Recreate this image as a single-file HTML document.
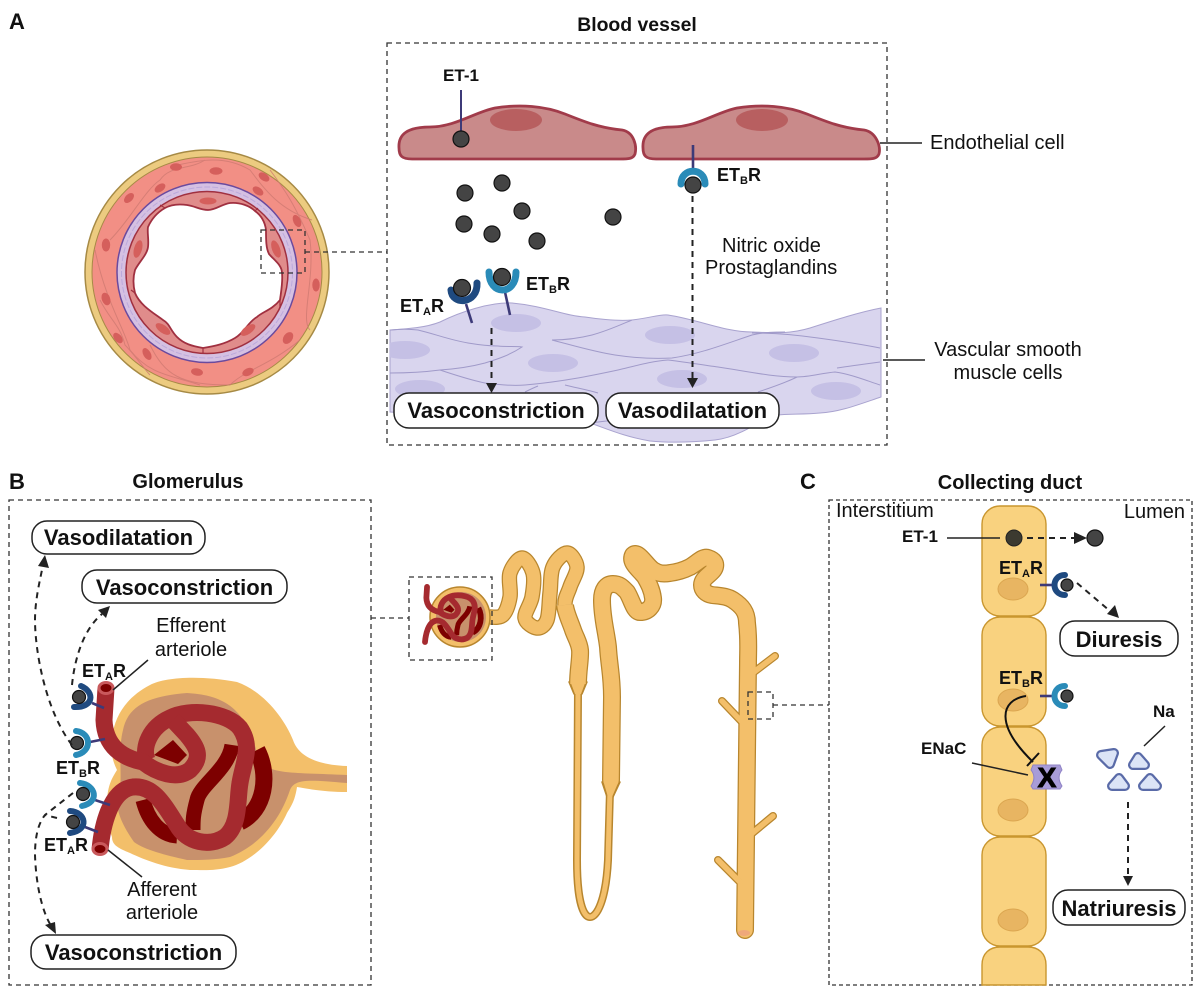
<!DOCTYPE html>
<html><head><meta charset="utf-8"><title>Endothelin diagram</title>
<style>
html,body{margin:0;padding:0;background:#fff}
svg{display:block}
text{font-family:"Liberation Sans",sans-serif;fill:#111}
.b{font-weight:bold}
.d{fill:none;stroke:#333;stroke-width:1.3;stroke-dasharray:5 4}
.a{fill:none;stroke:#222;stroke-width:2;stroke-dasharray:6 5}
.h{fill:#222}
.l{fill:none;stroke:#222;stroke-width:1.5}
.p{fill:#fff;stroke:#222;stroke-width:1.5}
.lig{fill:#444;stroke:#111;stroke-width:1.2}
.ea{fill:none;stroke:#1f4a80;stroke-width:7;stroke-linecap:round}
.eb{fill:none;stroke:#2a8bb8;stroke-width:7;stroke-linecap:round}
.st{fill:none;stroke:#3d3a78;stroke-width:2.6}
.smc{fill:none;stroke:#a09ac9;stroke-width:1}
.nuc{fill:#c5c0e5}
.vn{fill:#d55f5c}
.cl{fill:none;stroke:#d07a72;stroke-width:1;opacity:.8}
.cell{fill:#f9d27f;stroke:#c9962f;stroke-width:1.4}
.cn{fill:#e8b562;stroke:#dba650;stroke-width:1}
.nao{fill:#5a6ba8;stroke:#5a6ba8;stroke-width:10;stroke-linejoin:round}
.nai{fill:#dce4f6;stroke:#dce4f6;stroke-width:5.5;stroke-linejoin:round}
</style></head>
<body>
<svg width="1200" height="996" viewBox="0 0 1200 996" xmlns="http://www.w3.org/2000/svg">
<defs>
<clipPath id="smcclip"><path d="M390,330C405,329 425,328 440,322C460,312 490,302 512,303C545,306 565,316 585,317C605,320 620,321 632,320C650,318 660,314 668,315C700,320 725,332 752,332C775,333 790,334 810,328C835,320 860,312 881,308L881,397C860,404 840,412 820,413C800,415 785,413 770,416C755,425 735,438 715,440C695,442 670,443 650,441C625,437 605,428 590,423L390,412Z"/></clipPath>
</defs>
<rect width="1200" height="996" fill="#fff"/>

<text class="b" x="9" y="29" font-size="22">A</text>
<text class="b" x="9" y="489" font-size="22">B</text>
<text class="b" x="800" y="489" font-size="22">C</text>

<!-- Vessel cross-section -->
<circle cx="207" cy="272" r="122" fill="#eccb80" stroke="#a68a45" stroke-width="1.5"/>
<circle cx="207" cy="272" r="115" fill="#f28f85" stroke="#a68a45" stroke-width="1"/>
<g class="cl">
<path d="M178,165C200,160 225,155 250,170C265,190 280,210 312,220"/>
<path d="M110,240C130,220 145,190 160,180C170,165 190,170 205,160"/>
<path d="M95,250C105,300 125,330 130,350C150,375 170,375 200,385"/>
<path d="M270,170C285,190 295,205 310,240C315,280 300,320 310,330"/>
<path d="M150,345C165,375 180,385 230,385C245,370 270,365 300,340"/>
<path d="M100,300C110,320 120,325 125,345C135,355 145,370 150,375"/>
</g>
<g class="vn">
<ellipse cx="176" cy="167" rx="6" ry="3.7"/><ellipse cx="216" cy="171" rx="6.5" ry="3.7"/>
<ellipse cx="264" cy="177" rx="6" ry="3.7" transform="rotate(35 264 177)"/>
<ellipse cx="258" cy="191" rx="6" ry="3.7" transform="rotate(35 258 191)"/>
<ellipse cx="297" cy="221" rx="6.5" ry="3.7" transform="rotate(65 297 221)"/>
<ellipse cx="316" cy="285" rx="6.5" ry="3.7" transform="rotate(90 316 285)"/>
<ellipse cx="288" cy="338" rx="6.5" ry="4.5" transform="rotate(125 288 338)"/>
<ellipse cx="248" cy="372" rx="6" ry="3.7" transform="rotate(155 248 372)"/>
<ellipse cx="197" cy="372" rx="6" ry="3.7" transform="rotate(10 197 372)"/>
<ellipse cx="147" cy="354" rx="6.5" ry="3.7" transform="rotate(60 147 354)"/>
<ellipse cx="118" cy="338" rx="6" ry="3.7" transform="rotate(50 118 338)"/>
<ellipse cx="106" cy="299" rx="6.5" ry="4.2" transform="rotate(70 106 299)"/>
<ellipse cx="106" cy="245" rx="6.5" ry="4.2" transform="rotate(90 106 245)"/>
<ellipse cx="129" cy="198" rx="6" ry="3.7" transform="rotate(-45 129 198)"/>
<ellipse cx="160" cy="188" rx="6" ry="3.7" transform="rotate(-35 160 188)"/>
</g>
<circle cx="207" cy="272.5" r="90" fill="#d5c0e2" stroke="#6a4a9e" stroke-width="1.5"/>
<circle cx="207" cy="272.500" r="85.500" fill="none" stroke="#bba9dc" stroke-width="1" stroke-dasharray="6 2"/>
<circle cx="207" cy="272.5" r="81" fill="#e08c8b" stroke="#a03040" stroke-width="1.5"/>
<path d="M165,208C172,204 180,204 187,205C195,206 200,210 208,210C216,210 222,204 230,203C240,202 250,206 255,211C262,216 265,222 266,230C266,240 266,248 269,254C274,260 282,265 282,273C283,282 281,292 280,300C272,310 262,312 257,317C248,322 245,332 235,338C225,344 215,346 203,348C192,346 184,344 177,337C170,330 170,324 163,320C152,312 140,305 135,293C133,285 133,277 135,270C139,262 147,255 148,247C149,240 147,232 148,227C152,218 158,212 165,208Z" fill="#fff" stroke="#a03040" stroke-width="1.8"/>
<g fill="none" stroke="#a03040" stroke-width="1.2">
<path d="M165,208L160,205M255,211L258,208M280,300L280,308M203,348L203,354M135,293L131,290"/>
</g>
<g class="vn">
<ellipse cx="208" cy="201" rx="8.5" ry="3.5"/>
<ellipse cx="138" cy="249" rx="9" ry="4" transform="rotate(105 138 249)"/>
<ellipse cx="276" cy="249" rx="9" ry="4" transform="rotate(70 276 249)"/>
<ellipse cx="163" cy="329" rx="8.5" ry="4" transform="rotate(35 163 329)"/>
<ellipse cx="248" cy="330" rx="8.5" ry="4" transform="rotate(-35 248 330)"/>
</g>
<rect class="d" x="261" y="230" width="44" height="43"/>
<path class="d" d="M305,252L387,252"/>

<!-- Panel A -->
<rect class="d" x="387" y="43" width="500" height="402" stroke-dasharray="4 3"/>
<text class="b" x="637" y="31" font-size="19.400" text-anchor="middle">Blood vessel</text>

<!-- Endothelial cells -->
<path d="M399,148C398,134 408,127 430,127C455,127 475,112 495,108C520,104 545,106 565,114C585,122 600,128 622,130C634,132 637,146 635,154C633,159 628,159 620,159L412,159C402,159 399,156 399,148Z" fill="#c98a8a" stroke="#a13b4a" stroke-width="2.8"/>
<path d="M643,148C642,134 652,127 672,127C697,127 717,112 737,108C762,104 787,106 807,114C827,122 842,128 864,130C876,132 881,146 879,154C877,159 872,159 864,159L656,159C646,159 643,156 643,148Z" fill="#c98a8a" stroke="#a13b4a" stroke-width="2.8"/>
<ellipse cx="516" cy="120" rx="26" ry="11" fill="#b85f60"/>
<ellipse cx="762" cy="120" rx="26" ry="11" fill="#b85f60"/>

<text class="b" x="461" y="81" font-size="17" text-anchor="middle">ET-1</text>
<path d="M461,90L461,131" stroke="#3d3a78" stroke-width="2" fill="none"/>
<circle class="lig" cx="461" cy="139" r="8"/>
<g class="lig">
<circle cx="465" cy="193" r="8"/><circle cx="502" cy="183" r="8"/><circle cx="522" cy="211" r="8"/>
<circle cx="464" cy="224" r="8"/><circle cx="492" cy="234" r="8"/><circle cx="537" cy="241" r="8"/>
<circle cx="613" cy="217" r="8"/>
</g>

<path class="st" d="M693,145L693,172"/>
<path class="eb" d="M681,184C681,167 705,167 705,184"/>
<circle class="lig" cx="693" cy="185" r="8"/>
<text class="b" x="717" y="181" font-size="18">ET<tspan font-size="11" dy="3">B</tspan><tspan dy="-3">R</tspan></text>

<text x="722" y="252" font-size="20">Nitric oxide</text>
<text x="705" y="274" font-size="20">Prostaglandins</text>

<!-- smooth muscle -->
<path d="M390,330C405,329 425,328 440,322C460,312 490,302 512,303C545,306 565,316 585,317C605,320 620,321 632,320C650,318 660,314 668,315C700,320 725,332 752,332C775,333 790,334 810,328C835,320 860,312 881,308L881,397C860,404 840,412 820,413C800,415 785,413 770,416C755,425 735,438 715,440C695,442 670,443 650,441C625,437 605,428 590,423L390,412Z" fill="#d9d5ee" stroke="#a9a3cf" stroke-width="1"/>
<g class="nuc" clip-path="url(#smcclip)">
<ellipse cx="516" cy="323" rx="25" ry="9"/><ellipse cx="670" cy="335" rx="25" ry="9"/>
<ellipse cx="794" cy="353" rx="25" ry="9"/><ellipse cx="553" cy="363" rx="25" ry="9"/>
<ellipse cx="405" cy="350" rx="25" ry="9"/><ellipse cx="682" cy="379" rx="25" ry="9"/>
<ellipse cx="420" cy="389" rx="25" ry="9"/><ellipse cx="836" cy="391" rx="25" ry="9"/>
</g>
<g class="smc">
<path d="M390,330C400,329 410,329 418,330C435,334 450,340 468,343C480,345 490,346 498,346C508,347 516,346 522,347C510,355 498,359 485,363C470,367 455,369 440,370C425,372 405,373 390,373"/>
<path d="M552,340C565,340 580,338 592,335C607,331 620,325 632,320"/>
<path d="M552,340C575,346 595,352 615,355C635,358 655,359 672,358C700,354 725,344 752,335C765,332 775,332 785,332"/>
<path d="M752,333C775,333 797,335 818,338C840,341 860,344 880,348"/>
<path d="M440,370C455,375 470,380 485,383C500,385 512,386 525,385C560,382 590,376 618,370C635,366 652,361 668,360"/>
<path d="M668,360C685,362 702,365 718,367C745,371 772,377 797,377C810,377 822,373 835,372C850,374 865,380 880,385"/>
<path d="M837,368C850,366 865,364 880,362"/>
<path d="M797,377C785,383 770,388 758,392"/>
<path d="M565,385C577,388 588,390 598,393"/>
<path d="M538,386C533,388 529,390 525,392"/>
<path d="M590,423L680,412"/>
</g>

<path class="st" d="M466,304L472,323"/>
<path class="ea" d="M451,290C452,306 478,304 477,283"/>
<circle class="lig" cx="462" cy="288" r="8.500"/>
<path class="st" d="M505,292L510,315"/>
<path class="eb" d="M489,272C489,296 516,296 516,272"/>
<circle class="lig" cx="502" cy="277" r="8.500"/>
<text class="b" x="400" y="312" font-size="18">ET<tspan font-size="11" dy="3">A</tspan><tspan dy="-3">R</tspan></text>
<text class="b" x="526" y="290" font-size="18">ET<tspan font-size="11" dy="3">B</tspan><tspan dy="-3">R</tspan></text>

<path class="a" d="M491.500,328L491.500,382"/>
<path class="h" d="M486,383L497,383L491.500,393Z"/>
<path class="a" d="M692.500,196L692.500,378"/>
<path class="h" d="M687,378L698,378L692.500,388Z"/>

<rect class="p" x="394" y="393" width="204" height="35" rx="15"/>
<text class="b" x="496" y="418" font-size="22" text-anchor="middle">Vasoconstriction</text>
<rect class="p" x="606" y="393" width="173" height="35" rx="15"/>
<text class="b" x="692.500" y="418" font-size="22" text-anchor="middle">Vasodilatation</text>

<path class="l" d="M880,143L922,143"/>
<text x="930" y="149" font-size="20">Endothelial cell</text>
<path class="l" d="M883,360L925,360"/>
<text x="1008" y="356" font-size="20" text-anchor="middle">Vascular smooth</text>
<text x="1008" y="379" font-size="20" text-anchor="middle">muscle cells</text>

<!-- Panel B -->
<text class="b" x="188" y="488" font-size="20" text-anchor="middle">Glomerulus</text>
<rect class="d" x="9" y="500" width="362" height="485" stroke-dasharray="4 3"/>

<path d="M112,737C115,715 127,697 150,685C165,677 200,675 237,682C265,692 285,720 293,740C298,755 315,765 347,766L347,792C320,792 305,788 297,787C295,800 292,805 287,813C275,840 250,862 230,867C215,871 205,870 190,870C165,868 145,860 130,853C118,848 112,845 112,837C108,825 105,812 107,800C108,785 112,778 117,770C112,760 110,750 112,737Z" fill="#f3bf6a"/>
<path d="M123,730C128,705 150,696 187,693C220,695 245,705 257,753C265,775 280,772 347,775L347,783C310,780 295,778 290,790C280,820 260,845 230,857C215,860 200,860 187,860C165,855 145,850 134,842C115,815 115,800 120,790C122,770 118,750 123,730Z" fill="#c8916c"/>
<g fill="none" stroke="#7d0000">
<path d="M232,745C228,770 200,785 197,800C193,815 193,820 193,830" stroke-width="15"/>
<path d="M257,750C270,775 265,810 240,822" stroke-width="17"/>
<path d="M143,800C148,820 160,835 177,836" stroke-width="15"/>
</g>
<path d="M154,755L173,740L187,755L178,764Z" fill="#7d0000"/>
<g fill="none" stroke="#a52a2f" stroke-width="17">
<path d="M100,850C102,827 110,790 133,787C153,785 163,803 177,825C187,843 210,847 225,837C240,825 237,800 240,783C243,763 253,747 240,728C227,712 190,708 170,718C150,727 142,747 147,760"/>
<path d="M106,688L104,720C105,747 123,758 143,762C157,773 177,780 190,770C203,757 197,747 187,735L173,720"/>
</g>
<ellipse cx="106" cy="688" rx="8.500" ry="7" fill="#c9595c"/><ellipse cx="106" cy="688" rx="5.500" ry="4" fill="#7d0000"/>
<ellipse cx="100" cy="849" rx="8.500" ry="7" fill="#c9595c"/><ellipse cx="100" cy="849" rx="5.500" ry="4" fill="#7d0000"/>

<path class="st" d="M92,703L104,708"/><path class="ea" style="stroke-width:6" d="M81,686C95,692 94,708 74,707"/><circle class="lig" cx="79" cy="697" r="6.500"/>
<path class="st" d="M90,742L105,739"/><path class="eb" style="stroke-width:6" d="M76,731C92,733 92,752 76,755"/><circle class="lig" cx="77" cy="743" r="6.500"/>
<path class="st" d="M95,800L110,805"/><path class="eb" style="stroke-width:6" d="M80,783C96,785 100,802 82,806"/><circle class="lig" cx="83" cy="794" r="6.500"/>
<path class="st" d="M85,827L98,832"/><path class="ea" style="stroke-width:6" d="M70,811C86,812 90,830 70,833"/><circle class="lig" cx="73" cy="822" r="6.500"/>

<text class="b" x="82" y="677" font-size="18">ET<tspan font-size="11" dy="3">A</tspan><tspan dy="-3">R</tspan></text>
<text class="b" x="56" y="774" font-size="18">ET<tspan font-size="11" dy="3">B</tspan><tspan dy="-3">R</tspan></text>
<text class="b" x="44" y="851" font-size="18">ET<tspan font-size="11" dy="3">A</tspan><tspan dy="-3">R</tspan></text>

<path class="a" d="M72,745C45,710 35,650 35,620C35,600 40,580 43,565"/>
<path class="h" d="M38,566L49,568L45,555Z"/>
<path class="a" d="M72,685C75,655 85,628 102,614"/>
<path class="h" d="M98,610L106,618L110,606Z"/>
<path class="a" d="M73,793L45,815C37,825 35,840 35,855C36,885 42,910 50,924"/>
<path class="h" d="M45,925L55,922L56,934Z"/>
<path class="a" d="M57,818L45,815"/>

<text x="191" y="632" font-size="20" text-anchor="middle">Efferent</text>
<text x="191" y="656" font-size="20" text-anchor="middle">arteriole</text>
<text x="162" y="896" font-size="20" text-anchor="middle">Afferent</text>
<text x="162" y="919" font-size="20" text-anchor="middle">arteriole</text>
<path class="l" d="M113,690L148,660"/>
<path class="l" d="M108,850L142,877"/>

<rect class="p" x="32" y="521" width="173" height="33" rx="15"/>
<text class="b" x="118.500" y="545" font-size="22" text-anchor="middle">Vasodilatation</text>
<rect class="p" x="82" y="570" width="205" height="33" rx="15"/>
<text class="b" x="184.500" y="595" font-size="22" text-anchor="middle">Vasoconstriction</text>
<rect class="p" x="31" y="935" width="205" height="34" rx="15"/>
<text class="b" x="133.500" y="960" font-size="22" text-anchor="middle">Vasoconstriction</text>

<!-- Nephron -->
<g fill="none" stroke-linejoin="round">
<g stroke="#b8862e">
<path stroke-width="15.500" d="M490,617C492,617 499.700,618.300 503,615C506.300,611.700 508.800,604 510,597C511.200,590 508,579.500 510,573C512,566.500 518.200,558 522,558C525.800,558 531.300,566.500 533,573C534.700,579.500 533.300,589.500 532,597C530.700,604.500 524.200,612.800 525,618C525.800,623.200 533.300,627.700 537,628C540.700,628.300 544.800,625.800 547,620C549.200,614.200 549,601.800 550,593C551,584.200 550.200,573.700 553,567C555.800,560.300 563,553 567,553C571,553 576.500,561.300 577,567C577.500,572.700 572,580.700 570,587C568,593.300 564.500,597.800 565,605"/>
<path stroke-width="18" d="M565,605C565.500,612.200 570.500,622.500 573,630C575.500,637.500 579.200,642.200 580,650C580.800,657.800 578,670 578,684"/>
<path stroke-width="8" d="M578,690L577,860C577,900 583,917 590,917S606,900 608,860L610,790"/>
<path stroke-width="18" stroke-linecap="round" d="M611,780L612,697C612,675 609,665 608,647C606,630 602,618 602,600C602,590 606,584 613,584C620,584 623,588 627,592C632,600 634,612 640,612C648,612 654,606 653,598C652,590 649,584 645,577C640,570 629,563 633,555C638,550 646,565 653,570C659,574 664,574 670,573C678,572 684,570 690,567C697,563 703,556 708,558C714,560 716,563 715,567C713,574 702,577 702,585C702,590 706,594 712,595C720,596 727,596 733,600C742,606 747,612 747,623C749,640 748,650 748,663L745,930"/>
<path stroke-width="8" stroke-linecap="round" d="M750,675L775,656M742,722L722,701M750,835L773,816M740,882L718,860"/>
<path stroke-width="1.500" fill="#b8862e" d="M569,682L587,682L582,694L574,694Z M602,782L620,782L613,797L607,797Z"/>
</g>
<g stroke="#f3bf6a">
<path stroke-width="13" d="M490,617C492,617 499.700,618.300 503,615C506.300,611.700 508.800,604 510,597C511.200,590 508,579.500 510,573C512,566.500 518.200,558 522,558C525.800,558 531.300,566.500 533,573C534.700,579.500 533.300,589.500 532,597C530.700,604.500 524.200,612.800 525,618C525.800,623.200 533.300,627.700 537,628C540.700,628.300 544.800,625.800 547,620C549.200,614.200 549,601.800 550,593C551,584.200 550.200,573.700 553,567C555.800,560.300 563,553 567,553C571,553 576.500,561.300 577,567C577.500,572.700 572,580.700 570,587C568,593.300 564.500,597.800 565,605"/>
<path stroke-width="15.500" d="M565,605C565.500,612.200 570.500,622.500 573,630C575.500,637.500 579.200,642.200 580,650C580.800,657.800 578,670 578,684"/>
<path stroke-width="5" d="M578,690L577,860C577,900 583,917 590,917S606,900 608,860L610,790"/>
<path stroke-width="15.500" stroke-linecap="round" d="M611,780L612,697C612,675 609,665 608,647C606,630 602,618 602,600C602,590 606,584 613,584C620,584 623,588 627,592C632,600 634,612 640,612C648,612 654,606 653,598C652,590 649,584 645,577C640,570 629,563 633,555C638,550 646,565 653,570C659,574 664,574 670,573C678,572 684,570 690,567C697,563 703,556 708,558C714,560 716,563 715,567C713,574 702,577 702,585C702,590 706,594 712,595C720,596 727,596 733,600C742,606 747,612 747,623C749,640 748,650 748,663L745,930"/>
<path stroke-width="5.500" stroke-linecap="round" d="M750,675L775,656M742,722L722,701M750,835L773,816M740,882L718,860"/>
<path stroke="none" fill="#f3bf6a" d="M570.500,682L585.500,682L581,694L575,694Z M603.500,782L618.500,782L612,797L608,797Z"/>
</g>
</g>
<ellipse cx="744" cy="933" rx="6" ry="3" fill="#efa87a"/>
<circle cx="460" cy="617" r="30" fill="#f3bf6a" stroke="#b8862e" stroke-width="1.500"/>
<circle cx="461" cy="617" r="25" fill="#c8916c"/>
<g transform="translate(391,353) scale(.34)" fill="none">
<g stroke="#7d0000">
<path d="M232,745C228,770 200,785 197,800C193,815 193,820 193,830" stroke-width="15"/>
<path d="M257,750C270,775 265,810 240,822" stroke-width="17"/>
<path d="M143,800C148,820 160,835 177,836" stroke-width="15"/>
</g>
<path d="M154,755L173,740L187,755L178,764Z" fill="#7d0000"/>
<g stroke="#a52a2f" stroke-width="17" stroke-linecap="round">
<path d="M100,850C102,827 110,790 133,787C153,785 163,803 177,825C187,843 210,847 225,837C240,825 237,800 240,783C243,763 253,747 240,728C227,712 190,708 170,718C150,727 142,747 147,760"/>
<path d="M106,688L104,720C105,747 123,758 143,762C157,773 177,780 190,770C203,757 197,747 187,735L173,720"/>
</g>
</g>
<rect class="d" x="409" y="577" width="83" height="83"/>
<path class="d" d="M371,618L409,618"/>
<rect class="d" x="748" y="692" width="25" height="27"/>
<path class="d" d="M773,705L829,705"/>

<!-- Panel C -->
<text class="b" x="1010" y="489" font-size="20" text-anchor="middle">Collecting duct</text>
<rect x="829" y="500" width="363" height="485" fill="none" stroke="#333" stroke-width="1.300" stroke-dasharray="4 3"/>
<rect class="cell" x="982" y="506" width="64" height="110" rx="18"/>
<rect class="cell" x="982" y="617" width="64" height="109" rx="18"/>
<rect class="cell" x="982" y="727" width="64" height="109" rx="18"/>
<rect class="cell" x="982" y="837" width="64" height="109" rx="18"/>
<path class="cell" d="M982,985L982,965C982,953 990,947 1000,947L1028,947C1038,947 1046,953 1046,965L1046,985Z"/>
<g class="cn">
<ellipse cx="1013" cy="589" rx="15" ry="11"/><ellipse cx="1013" cy="700" rx="15" ry="11"/>
<ellipse cx="1013" cy="810" rx="15" ry="11"/><ellipse cx="1013" cy="920" rx="15" ry="11"/>
</g>
<text x="836" y="517" font-size="20">Interstitium</text>
<text x="1185" y="518" font-size="20" text-anchor="end">Lumen</text>
<text class="b" x="902" y="542" font-size="17">ET-1</text>
<path class="l" d="M947,538L1000,538"/>
<circle cx="1014" cy="538" r="8" fill="#3c3a30" stroke="#222" stroke-width="1"/>
<path class="a" d="M1027,538L1075,538"/>
<path class="h" d="M1074,532L1087,538L1074,544Z"/>
<circle class="lig" cx="1095" cy="538" r="8"/>

<text class="b" x="999" y="574" font-size="18">ET<tspan font-size="11" dy="3">A</tspan><tspan dy="-3">R</tspan></text>
<path class="st" d="M1040,585L1056,585"/>
<path class="ea" style="stroke-width:6" d="M1065,575C1051,575 1051,595 1065,595"/>
<circle class="lig" cx="1067" cy="585" r="6"/>
<path class="a" d="M1077,583L1110,611"/>
<path class="h" d="M1107,614L1115,605L1119,618Z"/>
<rect class="p" x="1060" y="621" width="118" height="35" rx="15"/>
<text class="b" x="1119" y="647" font-size="22" text-anchor="middle">Diuresis</text>

<text class="b" x="999" y="684" font-size="18">ET<tspan font-size="11" dy="3">B</tspan><tspan dy="-3">R</tspan></text>
<path class="st" d="M1040,696L1056,696"/>
<path class="eb" style="stroke-width:6" d="M1065,686C1051,686 1051,706 1065,706"/>
<circle class="lig" cx="1067" cy="696" r="6"/>

<path d="M1026,696C1000,700 995,725 1033,762" fill="none" stroke="#111" stroke-width="2"/>
<path d="M1027,766L1039,753" fill="none" stroke="#111" stroke-width="2"/>
<text class="b" x="921" y="754" font-size="17">ENaC</text>
<path class="l" d="M972,763L1028,775"/>
<path d="M1033,765L1060,765L1062,770C1058,775 1058,780 1062,786L1060,789L1033,789L1031,786C1035,780 1035,775 1031,770Z" fill="#a89cd8" stroke="#8f83c6" stroke-width="1"/>
<text class="b" x="1047" y="787" font-size="28" text-anchor="middle" style="fill:#000;stroke:#000;stroke-width:1">X</text>

<text class="b" x="1153" y="717" font-size="17">Na</text>
<path class="l" d="M1165,726L1144,746"/>
<g class="nao">
<path d="M1101,755L1114,753L1110,764Z"/>
<path d="M1138,757L1133,765L1145,765Z"/>
<path d="M1119,778L1112,786L1125,786Z"/>
<path d="M1150,778L1143,786L1157,786Z"/>
</g>
<g class="nai">
<path d="M1101,755L1114,753L1110,764Z"/>
<path d="M1138,757L1133,765L1145,765Z"/>
<path d="M1119,778L1112,786L1125,786Z"/>
<path d="M1150,778L1143,786L1157,786Z"/>
</g>
<path class="a" d="M1128,802L1128,876"/>
<path class="h" d="M1123,876L1133,876L1128,886Z"/>
<rect class="p" x="1053" y="890" width="132" height="35" rx="15"/>
<text class="b" x="1119" y="916" font-size="22" text-anchor="middle">Natriuresis</text>
</svg>
</body></html>
